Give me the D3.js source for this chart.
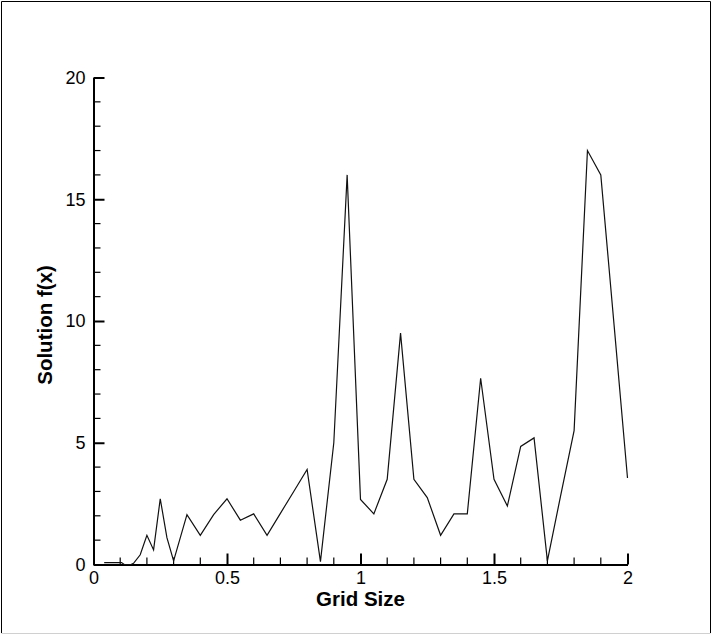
<!DOCTYPE html>
<html>
<head>
<meta charset="utf-8">
<script src="https://cdn.jsdelivr.net/npm/d3@7"></script>
<style>
  html, body { margin: 0; padding: 0; background: #fff; }
  svg { display: block; }
</style>
</head>
<body>
<svg id="chart" width="712" height="635"></svg>
<script>
// ---- data ----
const gridSize = [0.04, 0.105, 0.115, 0.14, 0.15, 0.175, 0.2, 0.225, 0.25, 0.275, 0.3, 0.35, 0.4, 0.45, 0.5, 0.55, 0.6, 0.65, 0.7, 0.75, 0.8, 0.85, 0.9, 0.95, 1.0, 1.05, 1.1, 1.15, 1.2, 1.25, 1.3, 1.35, 1.4, 1.45, 1.5, 1.55, 1.6, 1.65, 1.7, 1.75, 1.8, 1.85, 1.9, 1.95, 2.0];
const solution = [0.08, 0.08, 0.0, 0.0, 0.05, 0.4, 1.2, 0.6, 2.7, 1.1, 0.15, 2.05, 1.2, 2.05, 2.7, 1.82, 2.08, 1.2, 2.1, 3.0, 3.9, 0.12, 5.0, 16.0, 2.67, 2.08, 3.5, 9.5, 3.5, 2.75, 1.2, 2.08, 2.08, 7.65, 3.5, 2.4, 4.85, 5.2, 0.15, 2.85, 5.5, 17.0, 16.0, 9.8, 3.55];
const xMajorTicks = [0, 0.5, 1, 1.5, 2];
const xTickLabels = ["0", "0.5", "1", "1.5", "2"];
const yMajorTicks = [0, 5, 10, 15, 20];
const yTickLabels = ["0", "5", "10", "15", "20"];
const xTitle = "Grid Size";
const yTitle = "Solution f(x)";

// ---- layout ----
const svg = d3.select("#chart");
const mLeft = 93.5, mRight = 627.5, mTop = 77.5, mBottom = 564.5;

const x = d3.scaleLinear().domain([0, 2]).range([mLeft, mRight]);
const y = d3.scaleLinear().domain([0, 20]).range([mBottom, mTop]);

// outer frame
svg.append("line").attr("x1", 1.5).attr("y1", 1.5).attr("x2", 710.5).attr("y2", 1.5).attr("stroke", "#000");
svg.append("line").attr("x1", 1.5).attr("y1", 1.5).attr("x2", 1.5).attr("y2", 633).attr("stroke", "#000");
svg.append("line").attr("x1", 710.5).attr("y1", 1.5).attr("x2", 710.5).attr("y2", 633).attr("stroke", "#000");
svg.append("line").attr("x1", 1.5).attr("y1", 633.5).attr("x2", 710.5).attr("y2", 633.5).attr("stroke", "#d0d0d0");

const fontFam = "'Liberation Sans', Arial, Helvetica, sans-serif";

// minor ticks
const xMinor = d3.range(0, 21).map(i => i / 10).filter(v => !xMajorTicks.some(m => Math.abs(m - v) < 1e-9));
const yMinor = d3.range(0, 21).filter(v => !yMajorTicks.includes(v));

// x axis
const xAxis = d3.axisBottom(x).tickValues(xMajorTicks).tickSize(-11).tickSizeOuter(0)
  .tickFormat((d, i) => xTickLabels[i]);
const gx = svg.append("g").attr("transform", `translate(0,${mBottom})`).call(xAxis);
gx.select(".domain").attr("stroke", "#000").attr("stroke-width", 2);
gx.selectAll(".tick line").attr("stroke", "#000").attr("stroke-width", 2);
gx.selectAll(".tick text").attr("y", 7).attr("dy", "0.71em")
  .attr("font-family", fontFam).attr("font-size", 18).attr("fill", "#000");
gx.selectAll(".minor").data(xMinor).enter().append("line").attr("class", "minor")
  .attr("x1", d => x(d)).attr("x2", d => x(d)).attr("y1", 0).attr("y2", -7)
  .attr("stroke", "#000").attr("stroke-width", 1.2);

// y axis
const yAxis = d3.axisLeft(y).tickValues(yMajorTicks).tickSize(-11).tickSizeOuter(0)
  .tickFormat((d, i) => yTickLabels[i]);
const gy = svg.append("g").attr("transform", `translate(${mLeft},0)`).call(yAxis);
gy.select(".domain").attr("stroke", "#000").attr("stroke-width", 2);
gy.selectAll(".tick line").attr("stroke", "#000").attr("stroke-width", 2);
gy.selectAll(".tick text").attr("x", -8)
  .attr("font-family", fontFam).attr("font-size", 18).attr("fill", "#000");
gy.selectAll(".minor").data(yMinor).enter().append("line").attr("class", "minor")
  .attr("y1", d => y(d)).attr("y2", d => y(d)).attr("x1", 0).attr("x2", 7)
  .attr("stroke", "#000").attr("stroke-width", 1.2);

// data line
const line = d3.line().x((d, i) => x(gridSize[i])).y(d => y(d));
svg.append("path").datum(solution).attr("d", line)
  .attr("fill", "none").attr("stroke", "#111").attr("stroke-width", 1.2)
  .attr("stroke-linejoin", "miter");

// titles
svg.append("text").attr("x", (mLeft + mRight) / 2).attr("y", 606)
  .attr("text-anchor", "middle").attr("font-family", fontFam)
  .attr("font-weight", "bold").attr("font-size", 20.5).attr("fill", "#000").text(xTitle);
svg.append("text").attr("transform", `translate(52,${(mTop + mBottom) / 2 + 4}) rotate(-90)`)
  .attr("text-anchor", "middle").attr("font-family", fontFam)
  .attr("font-weight", "bold").attr("font-size", 20.5).attr("fill", "#000").text(yTitle);
</script>
</body>
</html>
